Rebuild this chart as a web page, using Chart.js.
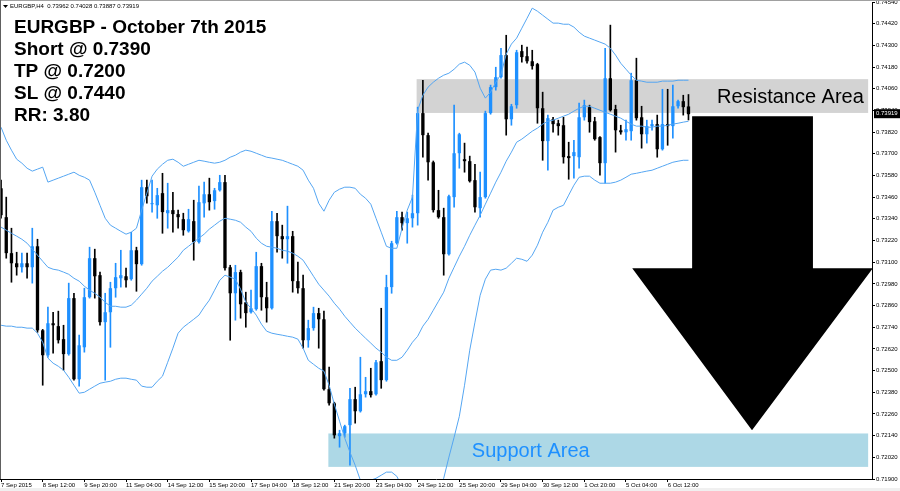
<!DOCTYPE html>
<html>
<head>
<meta charset="utf-8">
<title>EURGBP H4</title>
<script src="https://cdn.jsdelivr.net/npm/chart.js@4.4.0/dist/chart.umd.min.js"></script>
<style>
  body { margin: 0; background: #fff; }
  #box { width: 900px; height: 491px; }
</style>
</head>
<body>
<div id="box"><canvas id="chart"></canvas></div>
<script>
// H4 candles, 7 Sep 2015 -> 7 Oct 2015
const opens = [
  0.73509, 0.73349, 0.73150, 0.73094, 0.73072, 0.73094, 0.73072, 0.73188, 0.72723, 0.72585,
  0.72762, 0.72746, 0.72674, 0.72591, 0.72901, 0.72452, 0.72629, 0.72906, 0.73122, 0.73028,
  0.72768, 0.72823, 0.72956, 0.73011, 0.73022, 0.73006, 0.73166, 0.73089, 0.73515, 0.73421,
  0.73415, 0.73482, 0.73371, 0.73388, 0.73366, 0.73338, 0.73271, 0.73327, 0.73211, 0.73426,
  0.73476, 0.73438, 0.73498, 0.73543, 0.73072, 0.72928, 0.73045, 0.72878, 0.72823, 0.72840,
  0.73078, 0.72906, 0.72845, 0.73327, 0.73244, 0.73227, 0.73244, 0.72995, 0.72956, 0.72668,
  0.72735, 0.72818, 0.72784, 0.72397, 0.72319, 0.72137, 0.72153, 0.72198, 0.72342, 0.72275,
  0.72369, 0.72386, 0.72369, 0.72552, 0.72447, 0.72962, 0.73205, 0.73349, 0.73316, 0.73343,
  0.73371, 0.73925, 0.73803, 0.73653, 0.73388, 0.73349, 0.73144, 0.73460, 0.73703, 0.73670,
  0.73659, 0.73554, 0.73399, 0.73460, 0.73925, 0.74069, 0.74124, 0.74246, 0.73891, 0.73969,
  0.74268, 0.74240, 0.74212, 0.74196, 0.73952, 0.73770, 0.73891, 0.73869, 0.73858, 0.73687,
  0.73687, 0.73681, 0.73902, 0.73958, 0.73880, 0.73792, 0.73648, 0.74118, 0.73947, 0.73830,
  0.73819, 0.73825, 0.74107, 0.73902, 0.73808, 0.73853, 0.73864, 0.73725, 0.73864, 0.73853,
  0.73963, 0.73991, 0.73962
];
const highs = [
  0.73554, 0.73460, 0.73288, 0.73155, 0.73150, 0.73150, 0.73288, 0.73227, 0.72728, 0.72851,
  0.72823, 0.72829, 0.72751, 0.72984, 0.72928, 0.72696, 0.72956, 0.73183, 0.73172, 0.73045,
  0.72928, 0.72989, 0.73094, 0.73166, 0.73067, 0.73266, 0.73183, 0.73554, 0.73554, 0.73554,
  0.73509, 0.73592, 0.73537, 0.73487, 0.73388, 0.73371, 0.73393, 0.73443, 0.73521, 0.73543,
  0.73565, 0.73509, 0.73581, 0.73581, 0.73083, 0.73083, 0.73056, 0.72934, 0.72945, 0.73155,
  0.73094, 0.72989, 0.73382, 0.73371, 0.73305, 0.73410, 0.73271, 0.73100, 0.73028, 0.72779,
  0.72851, 0.72845, 0.72829, 0.72519, 0.72325, 0.72170, 0.72198, 0.72402, 0.72408, 0.72574,
  0.72463, 0.72513, 0.72557, 0.72845, 0.73028, 0.73216, 0.73382, 0.73377, 0.73377, 0.73471,
  0.73958, 0.74107, 0.73814, 0.73660, 0.73498, 0.73399, 0.73471, 0.73969, 0.73814, 0.73759,
  0.73687, 0.73642, 0.73598, 0.73936, 0.74080, 0.74179, 0.74284, 0.74356, 0.73974, 0.74273,
  0.74301, 0.74290, 0.74273, 0.74201, 0.74041, 0.73914, 0.73902, 0.73886, 0.73902, 0.73764,
  0.73775, 0.73980, 0.73997, 0.73969, 0.73902, 0.73795, 0.74284, 0.74412, 0.73969, 0.73858,
  0.73886, 0.74146, 0.74229, 0.73963, 0.73886, 0.73886, 0.73914, 0.74057, 0.74057, 0.74080,
  0.73997, 0.74024, 0.74028
];
const lows = [
  0.73343, 0.73122, 0.72989, 0.73028, 0.73045, 0.73011, 0.72984, 0.72712, 0.72419, 0.72574,
  0.72596, 0.72652, 0.72502, 0.72585, 0.72447, 0.72414, 0.72602, 0.72901, 0.72901, 0.72751,
  0.72447, 0.72629, 0.72906, 0.72962, 0.72962, 0.73000, 0.72939, 0.73083, 0.73426, 0.73377,
  0.73343, 0.73260, 0.73288, 0.73266, 0.73288, 0.73249, 0.73266, 0.73111, 0.73205, 0.73349,
  0.73388, 0.73393, 0.73493, 0.73056, 0.72668, 0.72779, 0.72790, 0.72740, 0.72818, 0.72834,
  0.72834, 0.72768, 0.72840, 0.73155, 0.73122, 0.73094, 0.72934, 0.72928, 0.72624, 0.72629,
  0.72723, 0.72624, 0.72391, 0.72308, 0.72126, 0.72076, 0.72131, 0.71976, 0.72209, 0.72270,
  0.72353, 0.72353, 0.72364, 0.72402, 0.72441, 0.72928, 0.73200, 0.73277, 0.73205, 0.73294,
  0.73305, 0.73681, 0.73554, 0.73377, 0.73343, 0.73028, 0.73139, 0.73404, 0.73620, 0.73598,
  0.73543, 0.73377, 0.73349, 0.73454, 0.73919, 0.74052, 0.74118, 0.73803, 0.73858, 0.73952,
  0.74207, 0.74201, 0.74168, 0.73869, 0.73664, 0.73609, 0.73819, 0.73803, 0.73648, 0.73559,
  0.73565, 0.73620, 0.73886, 0.73819, 0.73775, 0.73581, 0.73537, 0.73936, 0.73709, 0.73808,
  0.73775, 0.73775, 0.73886, 0.73731, 0.73759, 0.73830, 0.73681, 0.73720, 0.73747, 0.73786,
  0.73952, 0.73914, 0.73887
];
const closes = [
  0.73360, 0.73150, 0.73094, 0.73072, 0.73094, 0.73072, 0.73188, 0.72723, 0.72585, 0.72762,
  0.72751, 0.72668, 0.72591, 0.72901, 0.72452, 0.72640, 0.72906, 0.73122, 0.73022, 0.72768,
  0.72823, 0.72956, 0.73017, 0.73028, 0.73000, 0.73166, 0.73089, 0.73515, 0.73465, 0.73426,
  0.73471, 0.73377, 0.73388, 0.73366, 0.73349, 0.73277, 0.73338, 0.73211, 0.73432, 0.73476,
  0.73432, 0.73498, 0.73543, 0.73067, 0.72928, 0.73045, 0.72867, 0.72818, 0.72845, 0.73078,
  0.72906, 0.72845, 0.73327, 0.73244, 0.73227, 0.73244, 0.72995, 0.72956, 0.72668, 0.72735,
  0.72818, 0.72784, 0.72397, 0.72319, 0.72142, 0.72153, 0.72192, 0.72342, 0.72275, 0.72369,
  0.72386, 0.72364, 0.72546, 0.72447, 0.72962, 0.73205, 0.73349, 0.73316, 0.73343, 0.73371,
  0.73925, 0.73803, 0.73653, 0.73388, 0.73349, 0.73144, 0.73465, 0.73703, 0.73808, 0.73659,
  0.73548, 0.73404, 0.73460, 0.73925, 0.74069, 0.74124, 0.74246, 0.73891, 0.73963, 0.74262,
  0.74235, 0.74212, 0.74185, 0.73952, 0.73770, 0.73897, 0.73864, 0.73853, 0.73681, 0.73676,
  0.73709, 0.73902, 0.73969, 0.73875, 0.73781, 0.73648, 0.74118, 0.73941, 0.73830, 0.73819,
  0.73836, 0.74107, 0.73897, 0.73808, 0.73853, 0.73864, 0.73725, 0.73864, 0.73853, 0.73963,
  0.73991, 0.73958, 0.73919
];

// Bollinger bands as drawn on the chart
const bandUpper = [
  0.73847, 0.73775, 0.73720, 0.73670, 0.73648, 0.73620, 0.73604, 0.73615, 0.73626, 0.73543,
  0.73554, 0.73565, 0.73576, 0.73587, 0.73598, 0.73581, 0.73570, 0.73554, 0.73487, 0.73415,
  0.73343, 0.73305, 0.73288, 0.73271, 0.73255, 0.73266, 0.73288, 0.73388, 0.73482, 0.73576,
  0.73615, 0.73642, 0.73664, 0.73670, 0.73653, 0.73631, 0.73642, 0.73653, 0.73664, 0.73659,
  0.73653, 0.73648, 0.73653, 0.73664, 0.73681, 0.73692, 0.73709, 0.73720, 0.73714, 0.73703,
  0.73692, 0.73681, 0.73676, 0.73670, 0.73664, 0.73653, 0.73642, 0.73631, 0.73609, 0.73554,
  0.73509, 0.73426, 0.73382, 0.73443, 0.73487, 0.73504, 0.73515, 0.73515, 0.73509, 0.73476,
  0.73454, 0.73421, 0.73343, 0.73266, 0.73188, 0.73177, 0.73177, 0.73288, 0.73388, 0.73460,
  0.73941, 0.74024, 0.74069, 0.74096, 0.74118, 0.74135, 0.74146, 0.74168, 0.74196, 0.74207,
  0.74190, 0.74152, 0.74063, 0.74008, 0.74041, 0.74096, 0.74140, 0.74251, 0.74307, 0.74340,
  0.74395, 0.74450, 0.74506, 0.74489, 0.74467, 0.74445, 0.74423, 0.74423, 0.74417, 0.74417,
  0.74401, 0.74373, 0.74351, 0.74340, 0.74329, 0.74318, 0.74307, 0.74284, 0.74246, 0.74201,
  0.74168, 0.74135, 0.74107, 0.74102, 0.74096, 0.74096, 0.74096, 0.74102, 0.74102, 0.74102,
  0.74107, 0.74107, 0.74107
];
const bandMiddle = [
  0.73294, 0.73277, 0.73260, 0.73244, 0.73227, 0.73205, 0.73172, 0.73139, 0.73105, 0.73072,
  0.73061, 0.73056, 0.73045, 0.73033, 0.73011, 0.72995, 0.72967, 0.72945, 0.72928, 0.72906,
  0.72878, 0.72856, 0.72856, 0.72851, 0.72851, 0.72862, 0.72890, 0.72923, 0.72956, 0.72995,
  0.73022, 0.73050, 0.73072, 0.73100, 0.73128, 0.73166, 0.73188, 0.73211, 0.73233, 0.73255,
  0.73283, 0.73305, 0.73327, 0.73343, 0.73338, 0.73332, 0.73321, 0.73294, 0.73271, 0.73233,
  0.73205, 0.73188, 0.73183, 0.73177, 0.73166, 0.73161, 0.73150, 0.73133, 0.73111, 0.73067,
  0.73022, 0.72978, 0.72945, 0.72912, 0.72873, 0.72840, 0.72801, 0.72768, 0.72735, 0.72707,
  0.72679, 0.72652, 0.72624, 0.72602, 0.72574, 0.72557, 0.72557, 0.72574, 0.72613, 0.72657,
  0.72690, 0.72746, 0.72784, 0.72834, 0.72884, 0.72934, 0.73011, 0.73072, 0.73133, 0.73188,
  0.73249, 0.73305, 0.73360, 0.73421, 0.73482, 0.73543, 0.73598, 0.73659, 0.73709, 0.73764,
  0.73781, 0.73803, 0.73825, 0.73842, 0.73864, 0.73880, 0.73886, 0.73897, 0.73908, 0.73919,
  0.73936, 0.73952, 0.73963, 0.73963, 0.73952, 0.73941, 0.73930, 0.73919, 0.73908, 0.73897,
  0.73880, 0.73864, 0.73853, 0.73853, 0.73847, 0.73847, 0.73853, 0.73853, 0.73858, 0.73864,
  0.73869, 0.73875, 0.73880
];
const bandLower = [
  0.72751, 0.72746, 0.72746, 0.72740, 0.72740, 0.72735, 0.72735, 0.72707, 0.72657, 0.72569,
  0.72541, 0.72524, 0.72502, 0.72463, 0.72419, 0.72375, 0.72380, 0.72397, 0.72414, 0.72430,
  0.72436, 0.72441, 0.72452, 0.72458, 0.72458, 0.72452, 0.72447, 0.72414, 0.72408, 0.72408,
  0.72441, 0.72469, 0.72546, 0.72624, 0.72707, 0.72740, 0.72762, 0.72784, 0.72807, 0.72851,
  0.72890, 0.72945, 0.73000, 0.73028, 0.73017, 0.73006, 0.72950, 0.72878, 0.72845, 0.72807,
  0.72757, 0.72718, 0.72707, 0.72701, 0.72696, 0.72690, 0.72685, 0.72674, 0.72624, 0.72557,
  0.72535, 0.72513, 0.72497, 0.72419, 0.72314, 0.72220, 0.72126, 0.72048, 0.71976, 0.71893,
  0.71882, 0.71893, 0.71904, 0.71921, 0.71938, 0.71938, 0.71915, 0.71855, 0.71827, 0.71805,
  0.71783, 0.71788, 0.71805, 0.71821, 0.71849, 0.71904, 0.72021, 0.72131, 0.72247, 0.72419,
  0.72613, 0.72768, 0.72917, 0.73006, 0.73056, 0.73061, 0.73056, 0.73067, 0.73094, 0.73122,
  0.73116, 0.73105, 0.73139, 0.73194, 0.73266, 0.73321, 0.73388, 0.73404, 0.73415, 0.73471,
  0.73526, 0.73570, 0.73576, 0.73576, 0.73554, 0.73537, 0.73537, 0.73537, 0.73543, 0.73554,
  0.73570, 0.73587, 0.73592, 0.73598, 0.73604, 0.73609, 0.73620, 0.73631, 0.73642, 0.73653,
  0.73659, 0.73664, 0.73664
];

// time axis: one label every 8 bars
const timeLabels = [
  "7 Sep 2015", "8 Sep 12:00", "9 Sep 20:00", "11 Sep 04:00", "14 Sep 12:00", "15 Sep 20:00",
  "17 Sep 04:00", "18 Sep 12:00", "21 Sep 20:00", "23 Sep 04:00", "24 Sep 12:00", "25 Sep 20:00",
  "29 Sep 04:00", "30 Sep 12:00", "1 Oct 20:00", "5 Oct 04:00", "6 Oct 12:00"
];
const priceTicks = [
  0.71900, 0.72020, 0.72140, 0.72260, 0.72380, 0.72500, 0.72620, 0.72740, 0.72860, 0.72980,
  0.73100, 0.73220, 0.73340, 0.73460, 0.73580, 0.73700, 0.73820, 0.73940, 0.74060, 0.74180,
  0.74300, 0.74420, 0.74540
];

const titleLines = ["EURGBP - October 7th 2015", "Short @ 0.7390", "TP @ 0.7200", "SL @ 0.7440", "RR: 3.80"];

// drawn zones and arrow, in bar index / price units
const resistanceZone = { from: 79.8, to: 166.5, low: 0.73926, high: 0.74113, text: "Resistance Area", textAt: 137.5 };
const supportZone = { from: 62.85, to: 166.5, low: 0.71967, high: 0.72152, text: "Support Area", textAt: 90.4 };
const arrow = { shaftLeft: 132.7, shaftRight: 155.9, shaftTop: 0.73908, headLeft: 121.2, headRight: 167.4, headBase: 0.73067, tipX: 144.2, tip: 0.72170 };

const bullColor = "#1e90ff";
const bearColor = "#000000";
const bandColor = "#55a6f2";
const font = "'Liberation Sans', Arial, sans-serif";

const idx = closes.map((_, i) => i);
const isBull = idx.map(i => closes[i] >= opens[i]);
const last = closes.length - 1;

const overlay = {
  id: "overlay",
  beforeDraw(chart) {
    const ctx = chart.ctx;
    ctx.save();
    ctx.fillStyle = "#f0f0f0";
    ctx.fillRect(0, 488, chart.width, chart.height - 488);
    ctx.restore();
  },
  beforeDatasetsDraw(chart) {
    const { ctx, scales: { x, y } } = chart;
    ctx.save();
    [[resistanceZone, "#d3d3d3"], [supportZone, "#add8e6"]].forEach(([z, c]) => {
      const x0 = x.getPixelForValue(z.from), x1 = x.getPixelForValue(z.to);
      const y0 = y.getPixelForValue(z.high), y1 = y.getPixelForValue(z.low);
      ctx.fillStyle = c;
      ctx.fillRect(x0, y0, x1 - x0, y1 - y0);
    });
    ctx.restore();
  },
  afterDatasetsDraw(chart) {
    const { ctx, scales: { x, y } } = chart;
    ctx.save();
    // arrow
    ctx.fillStyle = "#000";
    ctx.beginPath();
    ctx.moveTo(x.getPixelForValue(arrow.shaftLeft), y.getPixelForValue(arrow.shaftTop));
    ctx.lineTo(x.getPixelForValue(arrow.shaftRight), y.getPixelForValue(arrow.shaftTop));
    ctx.lineTo(x.getPixelForValue(arrow.shaftRight), y.getPixelForValue(arrow.headBase));
    ctx.lineTo(x.getPixelForValue(arrow.headRight), y.getPixelForValue(arrow.headBase));
    ctx.lineTo(x.getPixelForValue(arrow.tipX), y.getPixelForValue(arrow.tip));
    ctx.lineTo(x.getPixelForValue(arrow.headLeft), y.getPixelForValue(arrow.headBase));
    ctx.lineTo(x.getPixelForValue(arrow.shaftLeft), y.getPixelForValue(arrow.headBase));
    ctx.closePath();
    ctx.fill();
    // zone labels
    ctx.font = "20px " + font;
    ctx.textBaseline = "middle";
    ctx.textAlign = "left";
    [[resistanceZone, "#000"], [supportZone, "#1e90ff"]].forEach(([z, c]) => {
      ctx.fillStyle = c;
      ctx.fillText(z.text, x.getPixelForValue(z.textAt), y.getPixelForValue((z.low + z.high) / 2) + 1);
    });
    ctx.restore();
  },
  afterDraw(chart) {
    const { ctx, chartArea, scales: { y } } = chart;
    ctx.save();
    // frame lines
    ctx.fillStyle = "#a0a0a0";
    ctx.fillRect(0, 0, chart.width, 1);
    ctx.fillStyle = "#606060";
    ctx.fillRect(0, 0, 1, chartArea.bottom);
    // header
    ctx.fillStyle = "#000";
    ctx.beginPath();
    ctx.moveTo(3, 5); ctx.lineTo(8, 5); ctx.lineTo(5.5, 8); ctx.closePath();
    ctx.fill();
    ctx.font = "6px " + font;
    ctx.textBaseline = "middle";
    ctx.fillText("EURGBP,H4  " + [opens[last], highs[last], lows[last], closes[last]].map(v => v.toFixed(5)).join(" "), 10, 6.5);
    // title block
    ctx.font = "bold 19px " + font;
    ctx.textBaseline = "alphabetic";
    titleLines.forEach((t, k) => ctx.fillText(t, 14, 33 + k * 22));
    // current price label
    const py = y.getPixelForValue(closes[last]);
    ctx.fillStyle = "#000";
    ctx.fillRect(chartArea.right + 2, py - 5, chart.width - chartArea.right - 2, 9);
    ctx.fillStyle = "#fff";
    ctx.font = "6px " + font;
    ctx.textBaseline = "middle";
    ctx.fillText(closes[last].toFixed(5), chartArea.right + 4, py - 0.5);
    ctx.restore();
  }
};

new Chart(document.getElementById("chart"), {
  type: "bar",
  data: {
    datasets: [
      {
        type: "line", label: "Upper", data: idx.map(i => ({ x: i, y: bandUpper[i] })),
        borderColor: bandColor, borderWidth: 1, pointRadius: 0, tension: 0, order: 1
      },
      {
        type: "line", label: "Middle", data: idx.map(i => ({ x: i, y: bandMiddle[i] })),
        borderColor: bandColor, borderWidth: 1, pointRadius: 0, tension: 0, order: 1
      },
      {
        type: "line", label: "Lower", data: idx.map(i => ({ x: i, y: bandLower[i] })),
        borderColor: bandColor, borderWidth: 1, pointRadius: 0, tension: 0, order: 1
      },
      {
        label: "Body", data: idx.map(i => ({ x: i, y: [opens[i], closes[i]] })),
        backgroundColor: isBull.map(b => b ? bullColor : bearColor),
        grouped: false, barPercentage: 0.64, categoryPercentage: 1, minBarLength: 1, order: 2
      },
      {
        label: "Wick", data: idx.map(i => ({ x: i, y: [lows[i], highs[i]] })),
        backgroundColor: isBull.map(b => b ? bullColor : bearColor),
        grouped: false, maxBarThickness: 1, barPercentage: 1, categoryPercentage: 1, order: 3
      }
    ]
  },
  options: {
    responsive: true,
    maintainAspectRatio: false,
    animation: false,
    layout: { padding: { top: 2, left: 0, right: 0, bottom: 0 } },
    plugins: { legend: { display: false }, tooltip: { enabled: false } },
    scales: {
      x: {
        type: "linear", position: "bottom", min: -0.2, max: 167.24, offset: false,
        afterBuildTicks: s => { s.ticks = timeLabels.map((_, k) => ({ value: k * 8 })); },
        afterFit: s => { s.height = 12; s.paddingLeft = 0; s.paddingRight = 0; },
        ticks: {
          autoSkip: false, maxRotation: 0, align: "start", padding: 0, color: "#000",
          font: { family: font, size: 6 },
          callback: v => timeLabels[v / 8] || ""
        },
        grid: { offset: false, drawOnChartArea: false, drawTicks: true, tickLength: 3, color: "#000" },
        border: { display: true, color: "#000", width: 1 }
      },
      y: {
        type: "linear", position: "right", min: 0.719, max: 0.7454,
        afterBuildTicks: s => { s.ticks = priceTicks.map(v => ({ value: v })); },
        afterFit: s => { s.width = 28; s.paddingTop = 0; s.paddingBottom = 0; },
        ticks: {
          padding: 1, color: "#000", font: { family: font, size: 6 },
          callback: v => v.toFixed(5)
        },
        grid: { drawOnChartArea: false, drawTicks: true, tickLength: 3, color: "#000" },
        border: { display: true, color: "#000", width: 1 }
      }
    }
  },
  plugins: [overlay]
});
</script>
</body>
</html>
